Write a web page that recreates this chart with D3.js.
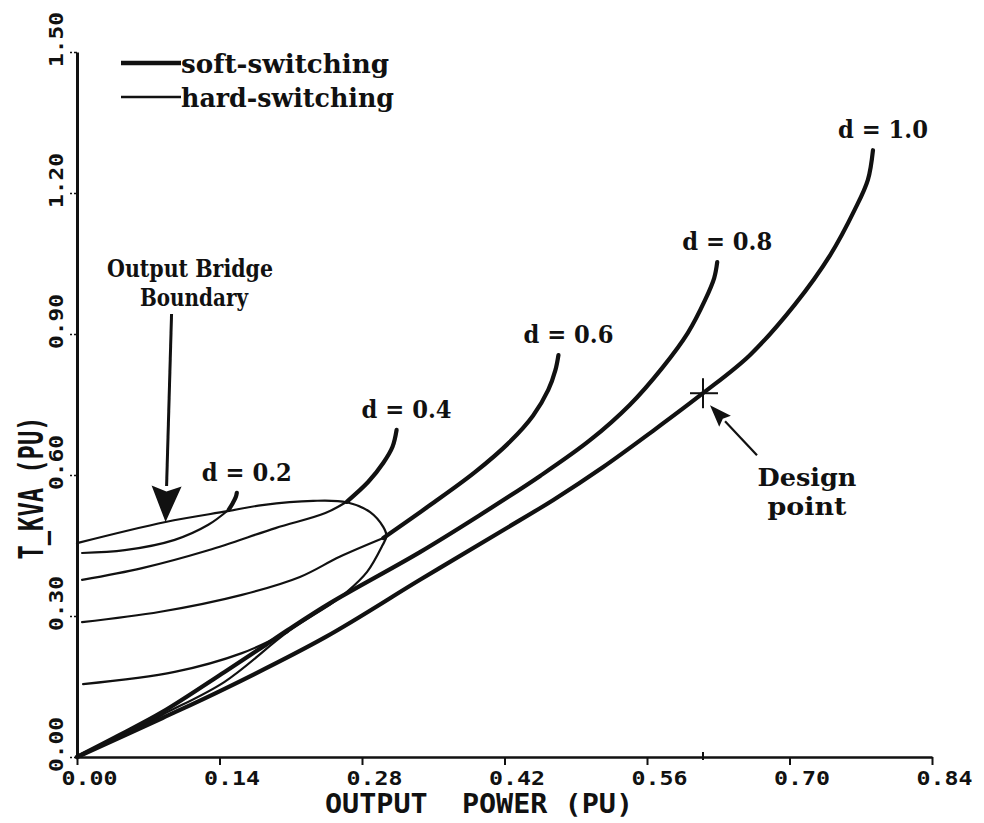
<!DOCTYPE html>
<html>
<head>
<meta charset="utf-8">
<script src="https://cdn.jsdelivr.net/npm/d3@7"></script>
<style>
  html, body { margin: 0; padding: 0; background: #fff; }
  svg { display: block; }
  .serif { font-family: "DejaVu Serif", serif; font-weight: bold; fill: #111; }
  .plotter { font-family: "DejaVu Sans Mono", monospace; font-weight: bold; fill: #111; }
  .curve { fill: none; stroke: #111; stroke-linecap: round; stroke-linejoin: round; }
  .soft { stroke-width: 4.2; }
  .hard { stroke-width: 2.2; }
</style>
</head>
<body>
<svg id="chart" width="984" height="823"></svg>
<script>
/* ── Data ───────────────────────────────────────────────────────────────────── */
const xTicks = [0, 0.14, 0.28, 0.42, 0.56, 0.70, 0.84];
const yTicks = [0, 0.30, 0.60, 0.90, 1.20, 1.50];

const xTitle = "OUTPUT  POWER (PU)";
const yTitle = "T_KVA (PU)";
const legendItems = ["soft-switching", "hard-switching"];
const curveNames = ["d = 0.2", "d = 0.4", "d = 0.6", "d = 0.8", "d = 1.0"];

// [output power, T_KVA]
const boundary = [
  [0.000, 0.455], [0.087, 0.500], [0.148, 0.523], [0.182, 0.536], [0.232, 0.545],
  [0.265, 0.542], [0.288, 0.521], [0.301, 0.489], [0.304, 0.470], [0.300, 0.450],
  [0.285, 0.394], [0.265, 0.351], [0.251, 0.328], [0.207, 0.266], [0.145, 0.160],
  [0.084, 0.090], [0.042, 0.042], [0.000, 0.000]
];

const d02Hard = [[0.005, 0.434], [0.047, 0.440], [0.096, 0.462], [0.129, 0.494], [0.149, 0.526]];
const d02Soft = [[0.149, 0.526], [0.153, 0.540], [0.156, 0.553], [0.157, 0.562]];

const d04Hard = [[0.005, 0.377], [0.064, 0.402], [0.129, 0.440], [0.195, 0.487], [0.244, 0.519], [0.265, 0.543]];
const d04Soft = [[0.265, 0.543], [0.286, 0.585], [0.301, 0.626], [0.310, 0.660], [0.314, 0.696]];

const d06Hard = [[0.005, 0.287], [0.082, 0.309], [0.162, 0.345], [0.219, 0.383], [0.258, 0.426], [0.301, 0.466]];
const d06Soft = [
  [0.301, 0.466], [0.347, 0.536], [0.391, 0.606], [0.425, 0.670], [0.448, 0.726],
  [0.463, 0.781], [0.470, 0.823], [0.473, 0.855]
];

const d08Hard = [[0.006, 0.155], [0.096, 0.181], [0.162, 0.221], [0.207, 0.266]];
const d08Soft = [
  [0.000, 0.000], [0.042, 0.047], [0.084, 0.096], [0.145, 0.181], [0.185, 0.238],
  [0.207, 0.270], [0.249, 0.328], [0.337, 0.436], [0.396, 0.515], [0.455, 0.598],
  [0.504, 0.674], [0.543, 0.749], [0.575, 0.828], [0.600, 0.902], [0.617, 0.972],
  [0.626, 1.019], [0.629, 1.053]
];

const d10Soft = [
  [0.000, 0.000], [0.084, 0.083], [0.145, 0.145], [0.244, 0.255], [0.337, 0.377],
  [0.419, 0.483], [0.468, 0.547], [0.517, 0.617], [0.566, 0.694], [0.615, 0.774],
  [0.661, 0.855], [0.705, 0.962], [0.740, 1.068], [0.764, 1.164], [0.777, 1.228],
  [0.782, 1.291]
];

const designPoint = [0.615, 0.774];

/* ── Setup ──────────────────────────────────────────────────────────────────── */
const svg = d3.select("#chart");
const x = d3.scaleLinear().domain([0, 0.84]).range([77, 932]);
const y = d3.scaleLinear().domain([0, 1.5]).range([757, 52]);

const line = d3.line()
  .x(d => x(d[0]))
  .y(d => y(d[1]))
  .curve(d3.curveCatmullRom.alpha(0.5));

/* ── Axes ───────────────────────────────────────────────────────────────────── */
const gx = svg.append("g")
  .attr("transform", `translate(0,${y(0)})`)
  .call(d3.axisBottom(x).tickValues(xTicks).tickSize(8).tickSizeOuter(0).tickFormat(d3.format(".2f")));
gx.select(".domain").attr("stroke", "#111").attr("stroke-width", 2.6);
gx.selectAll(".tick line").attr("stroke", "#111").attr("stroke-width", 2);
gx.selectAll(".tick text")
  .attr("class", "plotter")
  .attr("x", 12).attr("y", 28).attr("dy", null)
  .attr("font-size", 20)
  .attr("textLength", 56).attr("lengthAdjust", "spacingAndGlyphs");

const gy = svg.append("g")
  .attr("transform", `translate(${x(0)},0)`)
  .call(d3.axisLeft(y).tickValues(yTicks).tickSize(7).tickSizeOuter(0).tickFormat(d3.format(".2f")));
gy.select(".domain").attr("stroke", "#111").attr("stroke-width", 3);
gy.selectAll(".tick line").attr("stroke", "#111").attr("stroke-width", 1.6).attr("stroke-dasharray", "3,2");
gy.selectAll(".tick text")
  .attr("class", "plotter")
  .attr("x", null).attr("dy", null)
  .attr("text-anchor", "middle")
  .attr("transform", "translate(-14,-13) rotate(-90)")
  .attr("font-size", 20)
  .attr("textLength", 55).attr("lengthAdjust", "spacingAndGlyphs");

// small mark on the x axis under the design point
svg.append("line")
  .attr("x1", x(designPoint[0])).attr("x2", x(designPoint[0]))
  .attr("y1", y(0) - 5).attr("y2", y(0) + 3)
  .attr("stroke", "#111").attr("stroke-width", 2);

svg.append("text")
  .attr("class", "plotter")
  .attr("x", 479).attr("y", 813)
  .attr("text-anchor", "middle")
  .attr("font-size", 27)
  .attr("textLength", 308).attr("lengthAdjust", "spacingAndGlyphs")
  .style("white-space", "pre")
  .text(xTitle);

svg.append("text")
  .attr("class", "plotter")
  .attr("transform", "translate(43,488) rotate(-90)")
  .attr("text-anchor", "middle")
  .attr("font-size", 33)
  .attr("textLength", 143).attr("lengthAdjust", "spacingAndGlyphs")
  .text(yTitle);

/* ── Curves ─────────────────────────────────────────────────────────────────── */
const hardCurves = [boundary, d02Hard, d04Hard, d06Hard, d08Hard];
const softCurves = [d02Soft, d04Soft, d06Soft, d08Soft, d10Soft];

svg.append("g").selectAll("path")
  .data(hardCurves)
  .join("path")
  .attr("class", "curve hard")
  .attr("d", line);

svg.append("g").selectAll("path")
  .data(softCurves)
  .join("path")
  .attr("class", "curve soft")
  .attr("d", line);

// curve labels sit just above the top end of each soft-switching curve
svg.append("g").selectAll("text")
  .data(softCurves)
  .join("text")
  .attr("class", "serif")
  .attr("x", d => x(d[d.length - 1][0]) + 10)
  .attr("y", d => y(d[d.length - 1][1]) - 12)
  .attr("text-anchor", "middle")
  .attr("font-size", 25)
  .attr("textLength", 90).attr("lengthAdjust", "spacingAndGlyphs")
  .text((d, i) => curveNames[i]);

/* ── Annotations ────────────────────────────────────────────────────────────── */
function arrow(x1, y1, x2, y2, len, half, width) {
  const a = Math.atan2(y2 - y1, x2 - x1);
  const bx = x2 - len * Math.cos(a), by = y2 - len * Math.sin(a);
  const nx = -Math.sin(a) * half, ny = Math.cos(a) * half;
  svg.append("line")
    .attr("x1", x1).attr("y1", y1).attr("x2", bx).attr("y2", by)
    .attr("stroke", "#111").attr("stroke-width", width);
  svg.append("path")
    .attr("d", `M${x2},${y2}L${bx + nx},${by + ny}L${bx + (x2 - bx) * 0.15},${by + (y2 - by) * 0.15}L${bx - nx},${by - ny}Z`)
    .attr("fill", "#111");
}

// Output bridge boundary
const bTip = [x(boundary[1][0]), y(boundary[1][1])];
arrow(bTip[0] + 6, 314, bTip[0], bTip[1], 36, 15, 3);
svg.append("text").attr("class", "serif")
  .attr("x", 190).attr("y", 277).attr("text-anchor", "middle")
  .attr("font-size", 25).attr("textLength", 166).attr("lengthAdjust", "spacingAndGlyphs")
  .text("Output Bridge");
svg.append("text").attr("class", "serif")
  .attr("x", 194).attr("y", 306).attr("text-anchor", "middle")
  .attr("font-size", 25).attr("textLength", 108).attr("lengthAdjust", "spacingAndGlyphs")
  .text("Boundary");

// Design point
const dp = [x(designPoint[0]), y(designPoint[1])];
svg.append("line")
  .attr("x1", dp[0]).attr("x2", dp[0]).attr("y1", dp[1] - 15).attr("y2", dp[1] + 15)
  .attr("stroke", "#111").attr("stroke-width", 2);
svg.append("line")
  .attr("x1", dp[0] - 13).attr("x2", dp[0] + 15).attr("y1", dp[1]).attr("y2", dp[1])
  .attr("stroke", "#111").attr("stroke-width", 2);
arrow(dp[0] + 54, dp[1] + 62, dp[0] + 7, dp[1] + 12, 22, 8, 2.2);
svg.append("text").attr("class", "serif")
  .attr("x", dp[0] + 104).attr("y", dp[1] + 93).attr("text-anchor", "middle")
  .attr("font-size", 24).attr("textLength", 99).attr("lengthAdjust", "spacingAndGlyphs")
  .text("Design");
svg.append("text").attr("class", "serif")
  .attr("x", dp[0] + 104).attr("y", dp[1] + 122).attr("text-anchor", "middle")
  .attr("font-size", 24).attr("textLength", 79).attr("lengthAdjust", "spacingAndGlyphs")
  .text("point");

/* ── Legend ─────────────────────────────────────────────────────────────────── */
const legend = svg.append("g").selectAll("g")
  .data(legendItems)
  .join("g")
  .attr("transform", (d, i) => `translate(121,${63 + i * 34})`);
legend.append("line")
  .attr("x1", 0).attr("x2", 60).attr("y1", 0).attr("y2", 0)
  .attr("stroke", "#111")
  .attr("stroke-width", (d, i) => i === 0 ? 4.6 : 2.4);
legend.append("text")
  .attr("class", "serif")
  .attr("x", 60).attr("y", 10)
  .attr("font-size", 26)
  .attr("textLength", (d, i) => i === 0 ? 208 : 213)
  .attr("lengthAdjust", "spacingAndGlyphs")
  .text(d => d);
</script>
</body>
</html>
